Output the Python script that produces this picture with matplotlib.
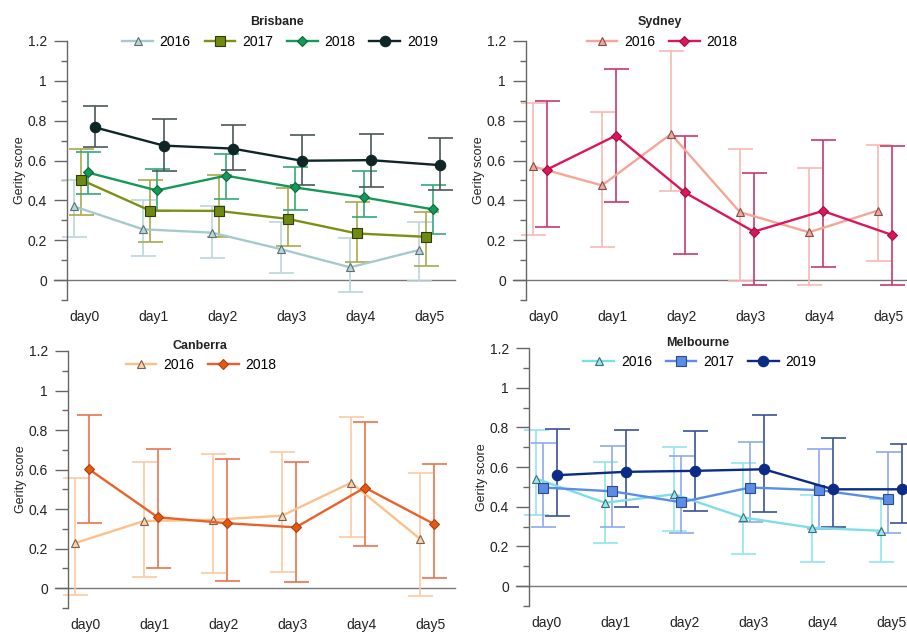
import matplotlib
matplotlib.use('Agg')
import matplotlib.pyplot as plt
import numpy as np
from matplotlib.lines import Line2D

plt.rcParams['font.family'] = ['Liberation Sans', 'DejaVu Sans']

W, H = 907, 632
days = ['day0', 'day1', 'day2', 'day3', 'day4', 'day5']
year_offsets = {'2016': -0.15, '2017': -0.05, '2018': 0.05, '2019': 0.15}

# ---------------- Brisbane ----------------
bris_2016 = [0.37, 0.255, 0.238, 0.155, 0.064, 0.151]
bris_2016_lo = [0.215, 0.123, 0.110, 0.037, -0.059, -0.005]
bris_2016_hi = [0.50, 0.403, 0.370, 0.293, 0.209, 0.290]
bris_2017 = [0.504, 0.349, 0.347, 0.307, 0.234, 0.217]
bris_2017_lo = [0.327, 0.190, 0.218, 0.172, 0.092, 0.072]
bris_2017_hi = [0.660, 0.504, 0.527, 0.463, 0.393, 0.340]
bris_2018 = [0.540, 0.450, 0.524, 0.465, 0.415, 0.355]
bris_2018_lo = [0.433, 0.349, 0.408, 0.351, 0.318, 0.229]
bris_2018_hi = [0.641, 0.557, 0.633, 0.569, 0.547, 0.475]
bris_2019 = [0.767, 0.675, 0.660, 0.599, 0.602, 0.577]
bris_2019_lo = [0.666, 0.545, 0.552, 0.477, 0.465, 0.452]
bris_2019_hi = [0.873, 0.806, 0.779, 0.728, 0.731, 0.711]

# ---------------- Sydney ----------------
syd_2016 = [0.571, 0.475, 0.733, 0.341, 0.240, 0.349]
syd_2016_lo = [0.227, 0.166, 0.448, -0.005, -0.025, 0.097]
syd_2016_hi = [0.890, 0.843, 1.150, 0.660, 0.562, 0.678]
syd_2018 = [0.554, 0.725, 0.440, 0.243, 0.347, 0.227]
syd_2018_lo = [0.265, 0.393, 0.131, -0.025, 0.067, -0.025]
syd_2018_hi = [0.900, 1.061, 0.725, 0.537, 0.705, 0.675]

# ---------------- Canberra ----------------
can_2016 = [0.228, 0.340, 0.346, 0.367, 0.534, 0.249]
can_2016_lo = [-0.034, 0.059, 0.076, 0.084, 0.258, -0.039]
can_2016_hi = [0.556, 0.637, 0.678, 0.688, 0.868, 0.581]
can_2018 = [0.603, 0.359, 0.329, 0.308, 0.509, 0.325]
can_2018_lo = [0.332, 0.101, 0.039, 0.029, 0.216, 0.054]
can_2018_hi = [0.876, 0.705, 0.652, 0.640, 0.839, 0.629]

# ---------------- Melbourne ----------------
mel_2016 = [0.542, 0.420, 0.463, 0.346, 0.294, 0.279]
mel_2016_lo = [0.361, 0.215, 0.277, 0.161, 0.123, 0.120]
mel_2016_hi = [0.789, 0.626, 0.702, 0.619, 0.460, 0.440]
mel_2017 = [0.497, 0.478, 0.423, 0.497, 0.484, 0.437]
mel_2017_lo = [0.300, 0.299, 0.270, 0.324, 0.290, 0.266]
mel_2017_hi = [0.722, 0.705, 0.656, 0.727, 0.689, 0.674]
mel_2019 = [0.559, 0.576, 0.581, 0.589, 0.488, 0.488]
mel_2019_lo = [0.352, 0.400, 0.380, 0.372, 0.299, 0.320]
mel_2019_hi = [0.790, 0.785, 0.780, 0.864, 0.744, 0.716]

# style per series: (line colour, error colour, marker, size, face, edge)
STY = {
    'b2016': ('#a6c9ce', '#bcd6da', '^', 6, '#b9d6da', '#5a7070'),
    'b2017': ('#7e8f14', '#aaa84a', 's', 7.5, '#6f8a12', '#2f3a08'),
    'b2018': ('#14995a', '#35a878', 'D', 5, '#14995a', '#0b6a3a'),
    'b2019': ('#0e2626', '#4a5858', 'o', 7.5, '#0e2626', '#0e2626'),
    's2016': ('#f6a596', '#f8b9b4', '^', 6, '#f6a596', '#7a5050'),
    's2018': ('#d9175a', '#c83a6c', 'D', 5, '#d9175a', '#a0103f'),
    'c2016': ('#fcc088', '#fcc9a2', '^', 6, '#fcd2a8', '#7a6050'),
    'c2018': ('#e8622a', '#e8744e', 'D', 5, '#e05a10', '#b04010'),
    'm2016': ('#7fdde9', '#92e4ee', '^', 6, '#9ae6ee', '#3a7070'),
    'm2017': ('#5b8de6', '#8eaaec', 's', 7.5, '#5b8de6', '#2c4a88'),
    'm2019': ('#0b2b86', '#3b5196', 'o', 7.5, '#0b2b86', '#0b2b86'),
}


def setup_axes(rect_px, xmax):
    left, top, right, bottom = rect_px
    ax = fig.add_axes([left / W, 1 - bottom / H, (right - left) / W, (bottom - top) / H])
    ax.set_xlim(-0.25, xmax)
    ax.set_ylim(-0.1, 1.2)
    for s in ['top', 'right', 'bottom']:
        ax.spines[s].set_visible(False)
    ax.spines['left'].set_color('#666666')
    ax.spines['left'].set_linewidth(1.0)
    ax.set_yticks(np.arange(0, 1.21, 0.2))
    ax.set_yticklabels(['0', '0.2', '0.4', '0.6', '0.8', '1', '1.2'])
    ax.set_yticks(np.arange(-0.1, 1.15, 0.2), minor=True)
    ax.tick_params(axis='y', which='major', length=9.5, width=1.0, color='#666666',
                   labelsize=10, pad=5, labelcolor='#222222')
    ax.tick_params(axis='y', which='minor', length=4.5, width=1.0, color='#666666')
    ax.set_xticks(np.arange(len(days)))
    ax.set_xticklabels(days)
    ax.tick_params(axis='x', length=0, labelsize=10, pad=7, labelcolor='#222222')
    ax.set_ylabel('Gerity score', fontsize=9, color='#222222', labelpad=1)
    ax.plot([-0.44, xmax], [0, 0], color='#777777', lw=1.0, clip_on=False, zorder=1)
    return ax


def draw(ax, key, year, vals, lo, hi):
    lc, ec, mk, ms, fc, edc = STY[key]
    x = np.arange(len(vals)) + year_offsets[year]
    v = np.array(vals)
    err = [v - np.array(lo), np.array(hi) - v]
    ax.errorbar(x, v, yerr=err, fmt='none', ecolor=ec, elinewidth=1.2,
                capsize=9, capthick=1.2, zorder=2, clip_on=False)
    ax.plot(x, v, color=lc, lw=1.7, marker=mk, ms=ms, mfc=fc, mec=edc, mew=0.8,
            zorder=3, clip_on=False)
    return Line2D([], [], color=lc, lw=1.7, marker=mk, ms=ms, mfc=fc, mec=edc, mew=0.8)


fig = plt.figure(figsize=(W / 100, H / 100), dpi=100)

# Brisbane
ax1 = setup_axes((67, 41, 455, 300), 5.37)
h = [draw(ax1, 'b2016', '2016', bris_2016, bris_2016_lo, bris_2016_hi),
     draw(ax1, 'b2017', '2017', bris_2017, bris_2017_lo, bris_2017_hi),
     draw(ax1, 'b2018', '2018', bris_2018, bris_2018_lo, bris_2018_hi),
     draw(ax1, 'b2019', '2019', bris_2019, bris_2019_lo, bris_2019_hi)]
fig.text(277 / W, 1 - 22 / H, 'Brisbane', ha='center', va='center', fontsize=9,
         fontweight='bold', color='#222222')
fig.legend(h, ['2016', '2017', '2018', '2019'], loc='center', ncol=4,
           bbox_to_anchor=(280 / W, 1 - 42 / H), frameon=False, fontsize=10,
           handlelength=2.2, handletextpad=0.5, columnspacing=1.0, borderpad=0)

# Sydney
ax2 = setup_axes((526, 41, 907, 300), 5.27)
h = [draw(ax2, 's2016', '2016', syd_2016, syd_2016_lo, syd_2016_hi),
     draw(ax2, 's2018', '2018', syd_2018, syd_2018_lo, syd_2018_hi)]
fig.text(660 / W, 1 - 22 / H, 'Sydney', ha='center', va='center', fontsize=9,
         fontweight='bold', color='#222222')
fig.legend(h, ['2016', '2018'], loc='center', ncol=2,
           bbox_to_anchor=(662 / W, 1 - 42 / H), frameon=False, fontsize=10,
           handlelength=2.2, handletextpad=0.5, columnspacing=1.0, borderpad=0)

# Canberra
ax3 = setup_axes((68, 351, 455, 608), 5.355)
h = [draw(ax3, 'c2016', '2016', can_2016, can_2016_lo, can_2016_hi),
     draw(ax3, 'c2018', '2018', can_2018, can_2018_lo, can_2018_hi)]
fig.text(200 / W, 1 - 346 / H, 'Canberra', ha='center', va='center', fontsize=9,
         fontweight='bold', color='#222222')
fig.legend(h, ['2016', '2018'], loc='center', ncol=2,
           bbox_to_anchor=(201 / W, 1 - 365 / H), frameon=False, fontsize=10,
           handlelength=2.2, handletextpad=0.5, columnspacing=1.0, borderpad=0)

# Melbourne
ax4 = setup_axes((529, 348, 907, 606), 5.22)
h = [draw(ax4, 'm2016', '2016', mel_2016, mel_2016_lo, mel_2016_hi),
     draw(ax4, 'm2017', '2017', mel_2017, mel_2017_lo, mel_2017_hi),
     draw(ax4, 'm2019', '2019', mel_2019, mel_2019_lo, mel_2019_hi)]
fig.text(698 / W, 1 - 343 / H, 'Melbourne', ha='center', va='center', fontsize=9,
         fontweight='bold', color='#222222')
fig.legend(h, ['2016', '2017', '2019'], loc='center', ncol=3,
           bbox_to_anchor=(700 / W, 1 - 362 / H), frameon=False, fontsize=10,
           handlelength=2.2, handletextpad=0.5, columnspacing=1.0, borderpad=0)

fig.savefig('out.png', dpi=100)
